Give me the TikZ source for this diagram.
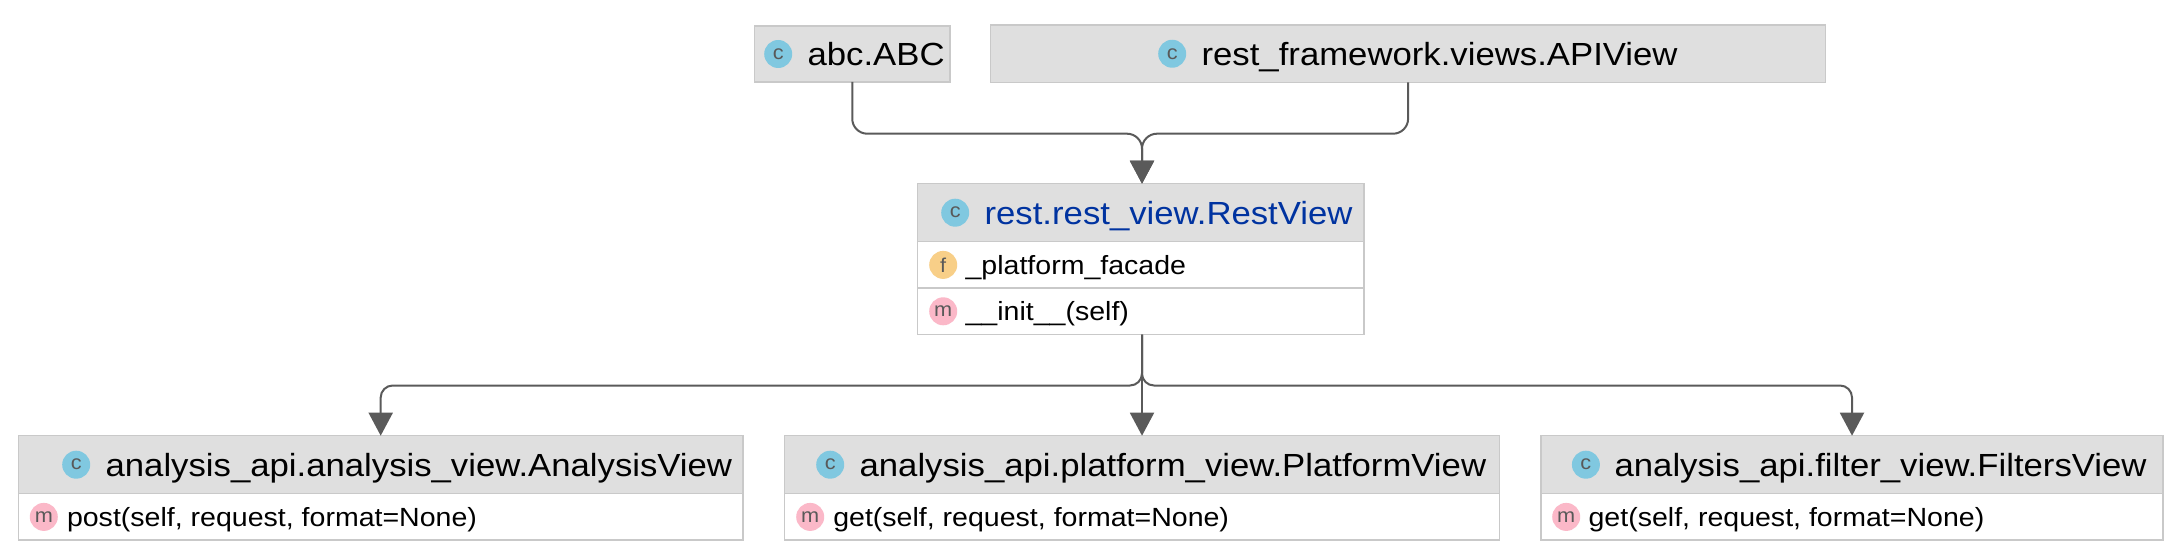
\documentclass[tikz,border=0pt]{standalone}
\usepackage{fontspec}
\setmainfont[FakeStretch=1.085]{Liberation Sans}
\usetikzlibrary{positioning,arrows.meta}
\definecolor{headfill}{HTML}{DFDFDF}
\definecolor{boxline}{HTML}{C9C9C9}
\definecolor{linkgray}{HTML}{5A5A5A}
\definecolor{iconblue}{HTML}{80C8E0}
\definecolor{iconorange}{HTML}{F8CF88}
\definecolor{iconpink}{HTML}{FBB8C8}
\definecolor{restblue}{HTML}{0033A0}
\tikzset{%
  classhead/.style={draw=boxline,fill=headfill,line width=1.5pt,inner sep=0pt,outer sep=0pt,minimum height=58pt,anchor=north west},
  classrow/.style={draw=boxline,fill=white,line width=1.5pt,inner sep=0pt,outer sep=0pt,minimum height=46.4pt},
  icon/.style={circle,inner sep=0pt,minimum size=28pt,text=black!65,font=\fontsize{20}{20}\selectfont},
  classicon/.style={icon,fill=iconblue},
  fieldicon/.style={icon,fill=iconorange},
  methodicon/.style={icon,fill=iconpink},
  headtext/.style={inner sep=0pt,text height=28pt,text depth=4.6pt,font=\fontsize{32}{32}\selectfont},
  rowtext/.style={inner sep=0pt,text height=24pt,text depth=5.4pt,font=\fontsize{26.3}{27}\selectfont},
  link/.style={draw=linkgray,line width=2pt,rounded corners=12pt,-{Triangle[length=23pt,width=24pt]}}
}
\begin{document}
\begin{tikzpicture}[x=1pt,y=1pt]
  \useasboundingbox (0,0) rectangle (2175,-556);

  % top row
  \node[classhead,minimum width=195.5pt,minimum height=56pt] (abc) at (754.5,-26) {};
  \node[classicon,right=9.5pt of abc.west] (abcicon) {c};
  \node[headtext,right=15pt of abcicon] (abctext) {abc.ABC};

  \node[classhead,minimum width=835pt,minimum height=57.5pt] (apiview) at (990.6,-25) {};
  \node[classicon,right=167.4pt of apiview.west] (apiviewicon) {c};
  \node[headtext,right=15pt of apiviewicon] (apiviewtext) {rest\_framework.views.APIView};

  % middle class
  \node[classhead,minimum width=446.3pt] (rest) at (917.7,-183.7) {};
  \node[classicon,right=23.3pt of rest.west] (resticon) {c};
  \node[headtext,text=restblue,right=15pt of resticon] (resttext) {rest.rest\_view.RestView};
  \node[classrow,minimum width=446.3pt,below=0pt of rest] (restfacade) {};
  \node[fieldicon,right=11.3pt of restfacade.west] (facadeicon) {f};
  \node[rowtext,right=8pt of facadeicon] (facadetext) {\_platform\_facade};
  \node[classrow,minimum width=446.3pt,below=0pt of restfacade] (restinit) {};
  \node[methodicon,right=11.3pt of restinit.west] (initicon) {m};
  \node[rowtext,right=8pt of initicon] (inittext) {\_\_init\_\_(self)};

  % bottom row
  \node[classhead,minimum width=724.6pt] (analysis) at (18.4,-435.7) {};
  \node[classicon,right=43.6pt of analysis.west] (analysisicon) {c};
  \node[headtext,right=15pt of analysisicon] (analysistext) {analysis\_api.analysis\_view.AnalysisView};
  \node[classrow,minimum width=724.6pt,below=0pt of analysis] (analysispost) {};
  \node[methodicon,right=11.2pt of analysispost.west] (posticon) {m};
  \node[rowtext,right=8.8pt of posticon] (posttext) {post(self, request, format=None)};

  \node[classhead,minimum width=715pt] (platform) at (784.5,-435.7) {};
  \node[classicon,right=31.5pt of platform.west] (platformicon) {c};
  \node[headtext,right=15pt of platformicon] (platformtext) {analysis\_api.platform\_view.PlatformView};
  \node[classrow,minimum width=715pt,below=0pt of platform] (platformget) {};
  \node[methodicon,right=11.5pt of platformget.west] (geticon) {m};
  \node[rowtext,right=8.7pt of geticon] (gettext) {get(self, request, format=None)};

  \node[classhead,minimum width=622pt] (filters) at (1541,-435.7) {};
  \node[classicon,right=30.7pt of filters.west] (filtersicon) {c};
  \node[headtext,right=14.3pt of filtersicon] (filterstext) {analysis\_api.filter\_view.FiltersView};
  \node[classrow,minimum width=622pt,below=0pt of filters] (filtersget) {};
  \node[methodicon,right=11pt of filtersget.west] (fgeticon) {m};
  \node[rowtext,right=8pt of fgeticon] (fgettext) {get(self, request, format=None)};

  % connectors
  \coordinate (restin) at (platform.north |- rest.north);
  \coordinate (restout) at (platform.north |- restinit.south);
  \coordinate[above=50pt of restin] (topjoin);
  \coordinate[below=51pt of restout] (botjoin);
  \draw[link,rounded corners=15pt] (abc.south) |- (topjoin) -- (restin);
  \draw[link,rounded corners=15pt] (apiview.south) |- (topjoin) -- (restin);
  \draw[link] (restout) -- (botjoin) -| (analysis.north);
  \draw[link] (restout) -- (platform.north);
  \draw[link] (restout) -- (botjoin) -| (filters.north);
\end{tikzpicture}
\end{document}
